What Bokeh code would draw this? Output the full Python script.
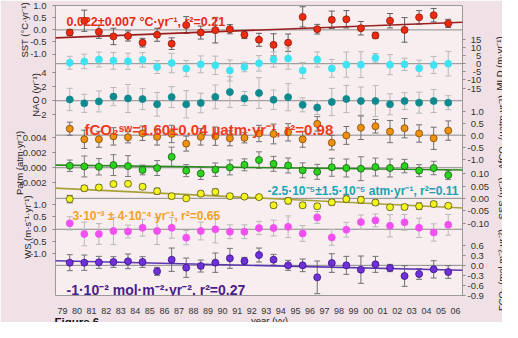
from math import pi
from bokeh.plotting import figure
from bokeh.layouts import row
from bokeh.models import (Range1d, LinearAxis, FixedTicker, ColumnDataSource,
                          Whisker, TeeHead, Span, Label)
from bokeh.embed import file_html
from bokeh.resources import INLINE

# ---------------- data ----------------
years = list(range(1979, 2006))
year_ticks = list(range(1979, 2007))
year_tick_labels = ["79", "80", "81", "82", "83", "84", "85", "86", "87", "88", "89", "90", "91", "92",
                    "93", "94", "95", "96", "97", "98", "99", "00", "01", "02", "03", "04", "05", "06"]

sst = [-0.11, 0.38, -0.08, -0.27, -0.25, -0.53, -0.20, -0.57, 0.20, -0.11, -0.01, 0.03, -0.20, -0.41,
       -0.62, -0.53, 0.54, 0.03, 0.42, 0.44, 0.07, -0.23, 0.38, 0.00, 0.52, 0.61, 0.27]
sst_err = [0.13, 0.44, 0.27, 0.34, 0.21, 0.18, 0.27, 0.24, 0.35, 0.27, 0.53, 0.19, 0.16, 0.27,
           0.46, 0.36, 0.42, 0.20, 0.36, 0.36, 0.28, 0.13, 0.30, 0.51, 0.28, 0.28, 0.17]

mld = [0.6, 1.4, 2.6, 1.8, 1.5, 2.4, -2.1, 0.4, -3.0, -0.4, -1.0, -4.2, -2.0, 0.2,
       2.6, 3.2, -4.2, 2.6, -2.9, -0.6, -0.6, 3.6, -0.6, -0.4, -2.8, -0.8, 0.0]
mld_err = [4.0, 4.5, 4.6, 5.2, 5.0, 4.5, 4.0, 6.0, 5.0, 5.2, 5.7, 6.5, 3.0, 4.8,
           4.7, 6.6, 5.0, 4.7, 5.5, 7.8, 8.0, 2.7, 6.2, 3.8, 5.0, 5.3, 7.6]

nao = [0.18, -0.37, -0.10, 0.59, 0.32, 0.23, -0.51, 0.52, -0.51, -0.32, 0.55, 1.24, 0.32, 1.10,
       0.14, 0.51, -0.59, -0.97, -0.18, 0.25, -0.04, -0.04, -0.51, -0.04, -0.28, -0.04, -0.28]
nao_err = [1.6, 1.3, 1.5, 1.3, 2.0, 1.5, 1.7, 1.5, 1.95, 1.4, 1.7, 2.2, 1.0, 2.2,
           1.4, 1.95, 1.0, 1.0, 1.95, 1.95, 2.0, 2.2, 1.5, 1.2, 1.5, 1.65, 1.0]

dfco2 = [0.27, -0.17, -0.17, -0.05, -0.09, 0.08, -0.07, 0.05, -0.35, -0.07, -0.04, -0.13, -0.11, 0.07,
         0.05, 0.12, -0.17, 0.47, -0.31, -0.01, 0.31, 0.37, 0.15, 0.29, 0.07, -0.13, 0.19]
dfco2_err = [0.27, 0.38, 0.33, 0.36, 0.23, 0.30, 0.34, 0.36, 0.31, 0.34, 0.38, 0.31, 0.21, 0.34,
             0.41, 0.36, 0.33, 0.30, 0.30, 0.37, 0.49, 0.28, 0.46, 0.40, 0.36, 0.46, 0.40]

patm = [0.00026, 0.00017, 0.00013, 0.00035, 0.00022, -0.00030, -0.00004, 0.00146, -0.00039, -0.00077,
        -0.00026, 0.00004, 0.00039, 0.00103, 0.00052, 0.00030, -0.00035, -0.00055, 0.00006, -0.00004,
        -0.00013, 0.00009, -0.00004, 0.00022, -0.00039, -0.00004, -0.00099]
patm_err = [0.00077, 0.0014, 0.0011, 0.0014, 0.0014, 0.00065, 0.0010, 0.0013, 0.0008, 0.0008,
            0.0009, 0.0010, 0.0008, 0.0011, 0.0010, 0.0010, 0.0010, 0.0010, 0.0012, 0.0012,
            0.0016, 0.0012, 0.0012, 0.0009, 0.0008, 0.0009, 0.0006]

sss = [-0.003, 0.041, 0.044, 0.058, 0.059, 0.047, 0.029, 0.009, 0.000, 0.019, 0.026, 0.009, 0.007, 0.005,
       -0.028, -0.010, -0.028, -0.032, -0.016, -0.003, -0.006, -0.017, -0.036, -0.035, -0.032, -0.023, -0.030]
sss_err = [0.015, 0.011, 0.010, 0.008, 0.008, 0.010, 0.012, 0.010, 0.008, 0.010, 0.012, 0.009, 0.008, 0.008,
           0.010, 0.012, 0.010, 0.009, 0.011, 0.013, 0.013, 0.010, 0.008, 0.010, 0.013, 0.010, 0.009]

ws = [0.24, -0.19, -0.19, -0.07, -0.09, 0.06, -0.07, 0.06, -0.34, -0.07, 0.00, -0.10, -0.10, 0.05,
      0.05, 0.10, -0.17, 0.48, -0.33, -0.02, 0.29, 0.36, 0.14, 0.28, 0.06, -0.13, 0.18]
ws_err = [0.27, 0.48, 0.42, 0.55, 0.26, 0.34, 0.55, 0.42, 0.29, 0.36, 0.55, 0.28, 0.28, 0.27,
          0.32, 0.44, 0.32, 0.24, 0.32, 0.30, 0.29, 0.26, 0.45, 0.32, 0.39, 0.35, 0.42]

fco2 = [0.08, 0.08, 0.09, 0.10, 0.12, 0.10, -0.18, 0.17, -0.07, -0.02, 0.08, 0.21, 0.13, 0.31,
        0.17, 0.00, 0.00, -0.36, 0.07, 0.00, -0.13, 0.03, -0.08, -0.32, -0.26, -0.12, -0.20]
fco2_err = [0.24, 0.23, 0.18, 0.16, 0.22, 0.16, 0.12, 0.35, 0.29, 0.18, 0.29, 0.30, 0.11, 0.21,
            0.16, 0.15, 0.19, 0.49, 0.28, 0.27, 0.41, 0.24, 0.11, 0.31, 0.16, 0.26, 0.19]

# fitted trend lines (values at the two ends of the time axis)
trend_years = [1978.5, 2006.5]
sst_trend = [-0.33, 0.32]
patm_trend = [0.00035, -0.00030]
sss_trend = [0.0415, -0.0388]
fco2_trend = [0.137, -0.146]

# axis ticks and labels
sst_ticks = [-1.0, -0.5, 0.0, 0.5, 1.0]
sst_tick_labels = ["-1.0", "-0.5", "0.0", "0.5", "1.0"]
mld_ticks = [-15, -10, -5, 0, 5, 10, 15]
mld_tick_labels = ["-15", "-10", "-5", "0", "5", "10", "15"]
nao_ticks = [-2, 0, 2, 4]
nao_tick_labels = ["-2", "0", "2", "4"]
dfco2_ticks = [-1.0, -0.5, 0.0, 0.5, 1.0]
dfco2_tick_labels = ["-1.0", "-0.5", "0.0", "0.5", "1.0"]
patm_ticks = [-0.002, 0.0, 0.002, 0.004]
patm_tick_labels = ["-0.002", "0.000", "0.002", "0.004"]
sss_ticks = [-0.10, -0.05, 0.0, 0.05, 0.10]
sss_tick_labels = ["-0.10", "-0.05", "0.00", "0.05", "0.10"]
ws_ticks = [-1.0, -0.5, 0.0, 0.5, 1.0]
ws_tick_labels = ["-1.0", "-0.5", "0.0", "0.5", "1.0"]
fco2_ticks = [-0.9, -0.6, -0.3, 0.0, 0.3, 0.6]
fco2_tick_labels = ["-0.9", "-0.6", "-0.3", "0.0", "0.3", "0.6"]

# ---------------- layout (reference pixel geometry) ----------------
W, H = 502, 322
BORDER_L, BORDER_R, BORDER_T, BORDER_B = 55, 40, 5, 27
OV_L, OV_R = 150, 150        # side borders of the transparent text overlay
FR_TOP, FR_BOT = 3.5, 306.5
FR_LEFT, FR_RIGHT = 63.0, 470.0
KY = (H - BORDER_T - BORDER_B) / (FR_BOT - FR_TOP)
X0, X1 = 1978.52, 2006.48
PXY = (FR_RIGHT - FR_LEFT) / (X1 - X0)
U = 10.0
TXT_SHIFT = 0.5              # label anchor correction, in em, towards the text's bottom

PANELS = {
    "sst":   dict(zero=29.0,  ppu=25.2,   side="left"),
    "mld":   dict(zero=64.3,  ppu=1.69,   side="right"),
    "nao":   dict(zero=103.0, ppu=7.3,    side="left"),
    "dfco2": dict(zero=139.0, ppu=25.2,   side="right"),
    "patm":  dict(zero=173.0, ppu=7800.0, side="left"),
    "sss":   dict(zero=205.0, ppu=258.0,  side="right"),
    "ws":    dict(zero=237.3, ppu=25.8,   side="left"),
    "fco2":  dict(zero=275.0, ppu=34.8,   side="right"),
}


def xr(X):
    return X0 + (X - FR_LEFT) / PXY


def ur(Y):
    return (FR_BOT - Y) * U


def u_of(name, v):
    pz = PANELS[name]
    return int(round(ur(pz["zero"] - v * pz["ppu"])))


def canvas_y(Y):
    # reference row -> row inside the 322 px canvas
    return BORDER_T + (Y - FR_TOP) * KY


def fpx(size):
    return float(size.replace("px", ""))


BG_OUT = "#f0e1e6"
BG_IN = "#f8eef0"
FONT = "Liberation Sans"

p = figure(width=W, height=H, x_range=Range1d(X0, X1), y_range=Range1d(0, ur(FR_TOP)),
           output_backend="svg", toolbar_location=None,
           min_border_left=BORDER_L, min_border_right=BORDER_R,
           min_border_top=BORDER_T, min_border_bottom=BORDER_B,
           background_fill_color=BG_IN, border_fill_color=BG_OUT)
p.outline_line_color = "#9a9a9a"
p.outline_line_width = 1
p.xgrid.visible = False
p.ygrid.visible = False

p.extra_y_ranges = {
    n: Range1d((pz["zero"] - FR_BOT) / pz["ppu"], (pz["zero"] - FR_TOP) / pz["ppu"])
    for n, pz in PANELS.items()
}

# x axis
xa = p.xaxis[0]
xa.ticker = FixedTicker(ticks=year_ticks)
xa.major_label_overrides = dict(zip(year_ticks, year_tick_labels))
xa.axis_line_color = None
xa.major_tick_line_color = None
xa.minor_tick_line_color = None
xa.major_label_standoff = 6
xa.major_label_text_font = FONT
xa.major_label_text_font_size = "9px"
xa.major_label_text_color = "#333333"


def pad_right(labels):
    dig = lambda s: sum(c.isdigit() for c in s)
    md = max(dig(s) for s in labels)
    mp = max(s.count(".") for s in labels)
    mm = max(s.count("-") for s in labels)
    return ["\u2004" * (mm - s.count("-")) + "\u2008" * (mp - s.count(".")) + "\u2007" * (md - dig(s)) + s
            for s in labels]


tick_sets = {
    "sst": (sst_ticks, sst_tick_labels), "mld": (mld_ticks, mld_tick_labels),
    "nao": (nao_ticks, nao_tick_labels), "dfco2": (dfco2_ticks, dfco2_tick_labels),
    "patm": (patm_ticks, patm_tick_labels), "sss": (sss_ticks, sss_tick_labels),
    "ws": (ws_ticks, ws_tick_labels), "fco2": (fco2_ticks, fco2_tick_labels),
}
left_pos, left_lab, right_pos, right_lab = [], {}, [], {}
for n, (tv, tl) in tick_sets.items():
    if PANELS[n]["side"] == "left":
        for v, s in zip(tv, tl):
            u = u_of(n, v)
            left_pos.append(u)
            left_lab[u] = s
    else:
        for v, s in zip(tv, pad_right(tl)):
            u = u_of(n, v)
            right_pos.append(u)
            right_lab[u] = s


def style_yaxis(ax, standoff):
    ax.axis_line_color = None
    ax.major_tick_in = 0
    ax.major_tick_out = 3
    ax.major_tick_line_color = "#8a8a8a"
    ax.minor_tick_line_color = None
    ax.major_label_standoff = standoff
    ax.major_label_text_font = FONT
    ax.major_label_text_font_size = "9.5px"
    ax.major_label_text_color = "#333333"


ya = p.yaxis[0]
ya.ticker = FixedTicker(ticks=sorted(left_pos))
ya.major_label_overrides = left_lab
style_yaxis(ya, 6)

yr_ax = LinearAxis(ticker=FixedTicker(ticks=sorted(right_pos)), major_label_overrides=right_lab)
style_yaxis(yr_ax, 2)
p.add_layout(yr_ax, "right")

# zero lines
for n in PANELS:
    p.add_layout(Span(location=0, dimension="width", y_range_name=n,
                      line_color="#8c8c8c", line_width=1, level="underlay"))

xs = [y + 0.5 for y in years]
series = [
    ("sst", sst, sst_err, "#f02a10", "#8a1a08", "#606060"),
    ("mld", mld, mld_err, "#3de3f0", "#3de3f0", "#b8b8b8"),
    ("nao", nao, nao_err, "#0f8a8e", "#0f8a8e", "#b8b8b8"),
    ("dfco2", dfco2, dfco2_err, "#f0900f", "#7a4a08", "#707070"),
    ("patm", patm, patm_err, "#2ad41e", "#1a5a14", "#7a7a7a"),
    ("sss", sss, sss_err, "#f5f51e", "#55550f", "#606060"),
    ("ws", ws, ws_err, "#f24ff0", "#f24ff0", "#b8b8b8"),
    ("fco2", fco2, fco2_err, "#7030d8", "#3a1488", "#707070"),
]
trends = {
    "sst": (sst_trend, "#9a2020"),
    "patm": (patm_trend, "#2a8c1e"),
    "sss": (sss_trend, "#a8a038"),
    "fco2": (fco2_trend, "#5a36b0"),
}

for n, vals, errs, fill, line, ecol in series:
    src = ColumnDataSource(dict(x=xs, v=vals,
                                lo=[a - b for a, b in zip(vals, errs)],
                                hi=[a + b for a, b in zip(vals, errs)]))
    p.add_layout(Whisker(source=src, base="x", lower="lo", upper="hi", dimension="height",
                         y_range_name=n, line_color=ecol, line_width=1, level="underlay",
                         upper_head=TeeHead(size=6, line_color=ecol, line_width=1),
                         lower_head=TeeHead(size=6, line_color=ecol, line_width=1)))
    if n in trends:
        tv, tc = trends[n]
        p.line(trend_years, tv, y_range_name=n, line_color=tc, line_width=1.6)
    p.scatter("x", "v", source=src, y_range_name=n, size=7,
              fill_color=fill, line_color=line, line_width=0.8)


def add_text(X, Y, text, size, color, bold=False):
    shift = TXT_SHIFT * fpx(size) / KY
    p.add_layout(Label(x=xr(X), y=ur(Y + shift), text=text,
                       text_font=FONT, text_font_size=size, text_color=color,
                       text_font_style="bold" if bold else "normal",
                       text_align="left", text_baseline="middle"))


# trend annotations (inside the frame)
add_text(74, 14, "0.022±0.007 °C·yr⁻¹, r²=0.21", "12.5px", "#ea2a12", bold=True)
add_text(92, 125, "fCO₂ˢʷ=1.60±0.04 µatm·yr⁻¹, r²=0.98", "15px", "#f03a1c", bold=True)
add_text(275, 191, "-2.5·10⁻⁵±1.5·10⁻⁵ atm·yr⁻¹, r²=0.11", "12px", "#1aa2b2", bold=True)
add_text(80, 217.3, "3·10⁻³ ± 4·10⁻⁴ yr⁻¹, r²=0.65", "12px", "#f5a024", bold=True)
add_text(74, 293, "-1·10⁻² mol·m⁻²·yr⁻², r²=0.27", "14px", "#4a1c8c", bold=True)

# ---------- transparent overlay canvas (canvas pixel coordinates) for texts outside the frame ----------
ov = figure(width=W, height=H, x_range=Range1d(OV_L, W - OV_R), y_range=Range1d(H - BORDER_B, BORDER_T),
            output_backend="svg", toolbar_location=None,
            min_border_left=OV_L, min_border_right=OV_R,
            min_border_top=BORDER_T, min_border_bottom=BORDER_B,
            x_axis_type=None, y_axis_type=None, margin=(0, 0, 0, -W),
            background_fill_alpha=0, border_fill_alpha=0)
ov.outline_line_color = None
ov.grid.visible = False


def add_outer(X, Y, text, size, color, side, bold=False, angle=0.0, align="center"):
    shift = TXT_SHIFT * fpx(size)
    cx, cy = X - 8, canvas_y(Y)
    if angle:
        cx += shift
    else:
        cy += shift
    ov.add_layout(Label(x=cx, y=cy, text=text, angle=angle,
                        text_font=FONT, text_font_size=size, text_color=color,
                        text_font_style="bold" if bold else "normal",
                        text_align=align, text_baseline="middle"), side)


add_outer(27, 29, "SST (°C·yr⁻¹)", "9.5px", "#222222", "left", angle=pi / 2)
add_outer(38, 97, "NAO (yr⁻¹)", "9.5px", "#222222", "left", angle=pi / 2)
add_outer(22, 168, "Patm (atm·yr⁻¹)", "9.5px", "#222222", "left", angle=pi / 2)
add_outer(30, 235, "WS (m·s⁻¹·yr⁻¹)", "9.5px", "#222222", "left", angle=pi / 2)
add_outer(502, 64, "MLD (m·yr⁻¹)", "9.5px", "#222222", "right", angle=pi / 2)
add_outer(504, 136, "ΔfCO₂ (µatm·yr⁻¹)", "9.5px", "#222222", "right", angle=pi / 2)
add_outer(504, 205, "SSS (yr⁻¹)", "9.5px", "#222222", "right", angle=pi / 2)
add_outer(504, 280, "FCO₂ (mol m⁻²·yr⁻²)", "9.5px", "#222222", "right", angle=pi / 2)
# bottom texts kept in the side stacks so the bottom border of the plot is not enlarged
add_outer(277, 328, "year (yy)", "9.5px", "#222222", "right")
add_outer(62, 328, "Figure 6.", "11.5px", "#111111", "left", bold=True, align="left")

layout = row(p, ov, spacing=0)
open("out.html", "w").write(file_html(layout, INLINE))
